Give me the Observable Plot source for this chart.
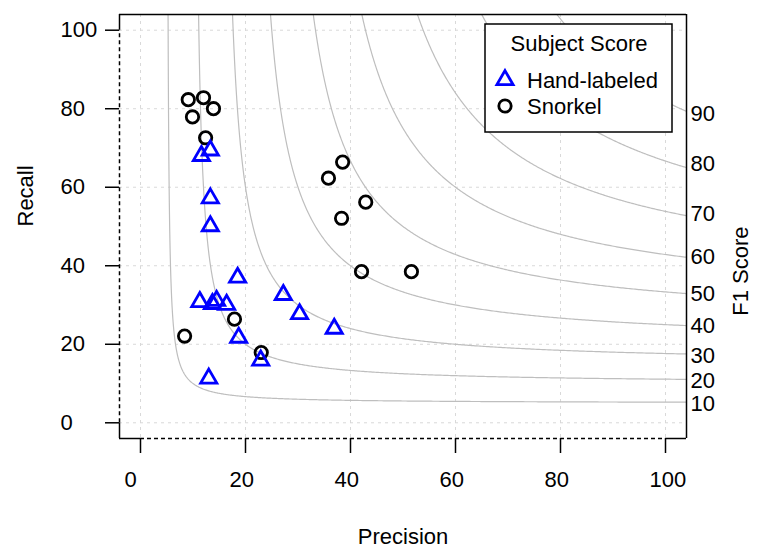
<!DOCTYPE html>
<html>
<head>
<meta charset="utf-8">
<script src="https://cdn.jsdelivr.net/npm/d3@7"></script>
<script src="https://cdn.jsdelivr.net/npm/@observablehq/plot@0.6"></script>
<style>
  html, body { margin: 0; padding: 0; background: white; }
  svg { display: block; }
</style>
</head>
<body>
<div id="chart"></div>
<script>
// ---- data ----
const xTicks = [0, 20, 40, 60, 80, 100];
const yTicks = [0, 20, 40, 60, 80, 100];
const f1Levels = [10, 20, 30, 40, 50, 60, 70, 80, 90];
// recall position of each F1 label in the right margin
const f1LabelRecall = [4.8, 10.6, 17.0, 24.7, 32.8, 42.2, 53.2, 65.9, 78.7];
const xDomain = [-4, 104];
const yDomain = [-4, 104];

// Hand-labeled (blue triangles)
const handPrecision = [13.3, 11.6, 13.3, 13.3, 18.5, 11.3, 13.7, 14.5, 16.4, 27.2, 30.3, 36.9, 18.7, 22.9, 13.0];
const handRecall    = [69.4, 68.0, 57.2, 50.1, 37.0, 30.8, 30.3, 31.1, 30.1, 32.6, 27.7, 24.0, 21.7, 15.9, 11.3];

// Snorkel (black circles)
const snorkelPrecision = [8.4, 9.1, 9.9, 12.0, 13.9, 12.4, 17.9, 23.0, 35.8, 38.5, 38.3, 42.9, 42.1, 51.6];
const snorkelRecall    = [22.1, 82.3, 77.9, 82.8, 80.0, 72.6, 26.4, 17.9, 62.3, 66.4, 52.1, 56.2, 38.5, 38.5];

const legendTitle = "Subject Score";
const seriesNames = ["Hand-labeled", "Snorkel"];

// ---- build tables ----
const hand = handPrecision.map((p, i) => ({p, r: handRecall[i]}));
const snorkel = snorkelPrecision.map((p, i) => ({p, r: snorkelRecall[i]}));
const f1Labels = f1Levels.map((f, i) => ({f, r: f1LabelRecall[i]}));

// iso-F1 curves: F1 = 2PR/(P+R)  =>  R = F*P/(2P - F)
const f1Recall = (f, p) => f * p / (2 * p - f);
const curves = [];
for (const f of f1Levels) {
  const pStart = f * 120 / (2 * 120 - f); // where recall = 120 (off-plot)
  const n = 400;
  for (let i = 0; i <= n; i++) {
    const p = pStart + (xDomain[1] - pStart) * Math.pow(i / n, 2);
    curves.push({f, p, r: f1Recall(f, p)});
  }
}

const font = "'Liberation Sans', Arial, Helvetica, sans-serif";
const dash = "4,3";
const dotR = 6.2, triR = 6.0, symW = 2.8;

const chart = Plot.plot({
  width: 762,
  height: 558,
  marginLeft: 119,
  marginRight: 76,
  marginTop: 14,
  marginBottom: 120,
  x: {domain: xDomain, axis: null},
  y: {domain: yDomain, axis: null},
  style: {fontFamily: font, fontSize: "22px", background: "white", color: "black"},
  marks: [
    // grid
    Plot.ruleX(xTicks, {x: d => d, stroke: "#d9d9d9", strokeDasharray: "3,4", strokeWidth: 1}),
    Plot.ruleY(yTicks, {y: d => d, stroke: "#d9d9d9", strokeDasharray: "3,4", strokeWidth: 1}),
    // iso-F1 curves
    Plot.line(curves, {x: "p", y: "r", z: "f", stroke: "#bebebe", strokeWidth: 1.2, clip: true}),
    // frame: top & right solid
    Plot.ruleY([yDomain[1]], {y: d => d, stroke: "black", strokeWidth: 1.5}),
    Plot.ruleX([xDomain[1]], {x: d => d, stroke: "black", strokeWidth: 1.5}),
    // left: solid outside 0..100, dashed inside
    Plot.ruleX([xDomain[0]], {x: d => d, y1: yDomain[0], y2: yTicks[0], stroke: "black", strokeWidth: 1.5}),
    Plot.ruleX([xDomain[0]], {x: d => d, y1: yTicks[0], y2: yTicks[yTicks.length - 1], stroke: "black", strokeWidth: 1.5, strokeDasharray: dash}),
    Plot.ruleX([xDomain[0]], {x: d => d, y1: yTicks[yTicks.length - 1], y2: yDomain[1], stroke: "black", strokeWidth: 1.5}),
    // bottom
    Plot.ruleY([yDomain[0]], {y: d => d, x1: xDomain[0], x2: xTicks[0], stroke: "black", strokeWidth: 1.5}),
    Plot.ruleY([yDomain[0]], {y: d => d, x1: xTicks[0], x2: xTicks[xTicks.length - 1], stroke: "black", strokeWidth: 1.5, strokeDasharray: dash}),
    Plot.ruleY([yDomain[0]], {y: d => d, x1: xTicks[xTicks.length - 1], x2: xDomain[1], stroke: "black", strokeWidth: 1.5}),
    // axis ticks
    Plot.axisX(xTicks, {anchor: "bottom", tickSize: 15, tickFormat: () => "", label: null, strokeWidth: 1.5}),
    Plot.axisY(yTicks, {anchor: "left", tickSize: 14, tickFormat: () => "", label: null, strokeWidth: 1.5}),
    // tick labels
    Plot.text(xTicks, {x: d => d, text: d => String(d), frameAnchor: "bottom", lineAnchor: "top", textAnchor: "start", dx: -16, dy: 33, fontSize: 22}),
    Plot.text(yTicks, {y: d => d, text: d => String(d), frameAnchor: "left", lineAnchor: "middle", textAnchor: "start", dx: -59, fontSize: 22}),
    // F1 labels on right
    Plot.text(f1Labels, {y: "r", text: d => String(d.f), frameAnchor: "right", lineAnchor: "middle", textAnchor: "start", dx: 4, fontSize: 22}),
    // axis titles
    Plot.text(["Precision"], {frameAnchor: "bottom", lineAnchor: "middle", dy: 98, fontSize: 22}),
    Plot.text(["Recall"], {frameAnchor: "left", lineAnchor: "middle", rotate: -90, dx: -94, fontSize: 22}),
    Plot.text(["F1 Score"], {frameAnchor: "right", lineAnchor: "middle", rotate: -90, dx: 54, fontSize: 22}),
    // points
    Plot.dot(snorkel, {x: "p", y: "r", symbol: "circle", r: dotR, stroke: "black", strokeWidth: symW, fill: "none"}),
    Plot.dot(hand, {x: "p", y: "r", symbol: "triangle", r: triR, stroke: "#0000ff", strokeWidth: symW, fill: "none"})
  ]
});

// legend (box, title, symbols, labels)
const svg = d3.select(chart);
const lg = svg.append("g").attr("font-family", font).attr("font-size", 22).attr("text-anchor", "start");
lg.append("rect").attr("x", 485).attr("y", 24).attr("width", 187).attr("height", 108)
  .attr("fill", "white").attr("stroke", "black").attr("stroke-width", 1.5);
lg.append("text").attr("x", 579).attr("y", 51).attr("text-anchor", "middle").text(legendTitle);
lg.append("path").attr("transform", "translate(505,80)")
  .attr("d", d3.symbol(d3.symbolTriangle, Math.PI * triR * triR)())
  .attr("fill", "none").attr("stroke", "#0000ff").attr("stroke-width", symW);
lg.append("circle").attr("cx", 505).attr("cy", 106).attr("r", dotR)
  .attr("fill", "none").attr("stroke", "black").attr("stroke-width", symW);
lg.append("text").attr("x", 527).attr("y", 88).attr("text-anchor", "start").text(seriesNames[0]);
lg.append("text").attr("x", 527).attr("y", 114).attr("text-anchor", "start").text(seriesNames[1]);

document.getElementById("chart").appendChild(chart);
</script>
</body>
</html>
